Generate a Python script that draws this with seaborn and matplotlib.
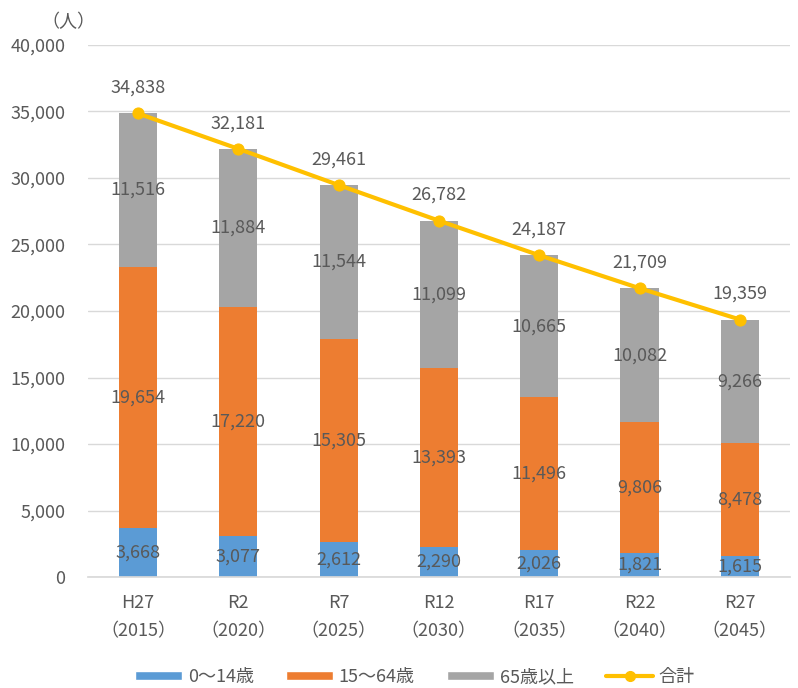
import numpy as np
import pandas as pd
import matplotlib
matplotlib.use("Agg")
import matplotlib.pyplot as plt
import seaborn as sns
from matplotlib.patches import Patch
from matplotlib.lines import Line2D
from matplotlib.ticker import FuncFormatter

# data
years = ["H27\n（2015）", "R2\n（2020）", "R7\n（2025）", "R12\n（2030）",
         "R17\n（2035）", "R22\n（2040）", "R27\n（2045）"]
age_0_14 = [3668, 3077, 2612, 2290, 2026, 1821, 1615]
age_15_64 = [19654, 17220, 15305, 13393, 11496, 9806, 8478]
age_65_up = [11516, 11884, 11544, 11099, 10665, 10082, 9266]
totals = [34838, 32181, 29461, 26782, 24187, 21709, 19359]

series_names = ["0～14歳", "15～64歳", "65歳以上", "合計"]
colors = ["#5B9BD5", "#ED7D31", "#A5A5A5", "#FFC000"]
text_grey = "#595959"

sns.set_theme(style="white")
plt.rcParams["font.family"] = ["Noto Sans CJK JP", "DejaVu Sans"]

df = pd.DataFrame({"year": years, "a": age_0_14, "b": age_15_64, "c": age_65_up})
df["ab"] = df["a"] + df["b"]
df["abc"] = df["ab"] + df["c"]

fig = plt.figure(figsize=(7.98, 6.88), dpi=100)
ax = fig.add_axes([0.110, 0.161, 0.880, 0.774])

# stacked bars drawn as cumulative layers
bw = 0.38
for col, c in [("abc", colors[2]), ("ab", colors[1]), ("a", colors[0])]:
    sns.barplot(data=df, x="year", y=col, color=c, width=bw, saturation=1,
                linewidth=0, ax=ax, zorder=2)

xs = np.arange(len(years))
sns.lineplot(x=xs, y=totals, color=colors[3], linewidth=3, marker="o", markersize=8,
             markeredgecolor=colors[3], ax=ax, zorder=4)

# segment labels
fs = 13
for i in range(len(years)):
    ax.text(i, age_0_14[i] / 2, f"{age_0_14[i]:,}", ha="center", va="center",
            fontsize=fs, color=text_grey, zorder=5)
    ax.text(i, age_0_14[i] + age_15_64[i] / 2, f"{age_15_64[i]:,}", ha="center", va="center",
            fontsize=fs, color=text_grey, zorder=5)
    ax.text(i, age_0_14[i] + age_15_64[i] + age_65_up[i] / 2, f"{age_65_up[i]:,}",
            ha="center", va="center", fontsize=fs, color=text_grey, zorder=5)
    ax.annotate(f"{totals[i]:,}", (i, totals[i]), xytext=(0, 12), textcoords="offset points",
                ha="center", va="bottom", fontsize=fs, color=text_grey, zorder=5)

ax.set_ylim(0, 40000)
ax.set_xlim(-0.5, len(years) - 0.5)
ax.set_yticks(np.arange(0, 40001, 5000))
ax.yaxis.set_major_formatter(FuncFormatter(lambda v, p: f"{int(v):,}"))
ax.grid(axis="y", color="#D9D9D9", linewidth=1, zorder=0)
ax.set_axisbelow(True)
for s in ax.spines.values():
    s.set_visible(False)
ax.spines["bottom"].set_visible(True)
ax.spines["bottom"].set_color("#D9D9D9")
ax.set_xlabel("")
ax.set_ylabel("")
ax.tick_params(axis="both", length=0, labelsize=fs, colors=text_grey)
ax.tick_params(axis="y", pad=16)
ax.tick_params(axis="x", pad=12)
for lbl in ax.get_xticklabels():
    lbl.set_linespacing(1.75)

fig.text(0.086, 0.968, "（人）", ha="center", va="center", fontsize=fs, color=text_grey)

handles = [Patch(facecolor=colors[0]), Patch(facecolor=colors[1]), Patch(facecolor=colors[2]),
           Line2D([], [], color=colors[3], linewidth=3, marker="o", markersize=7)]
fig.legend(handles, series_names, loc="center", bbox_to_anchor=(0.52, 0.016), ncol=4,
           frameon=False, fontsize=fs, handlelength=2.6, handleheight=0.45,
           columnspacing=1.8, handletextpad=0.3, labelcolor=text_grey)

fig.savefig("out.png", dpi=100)
